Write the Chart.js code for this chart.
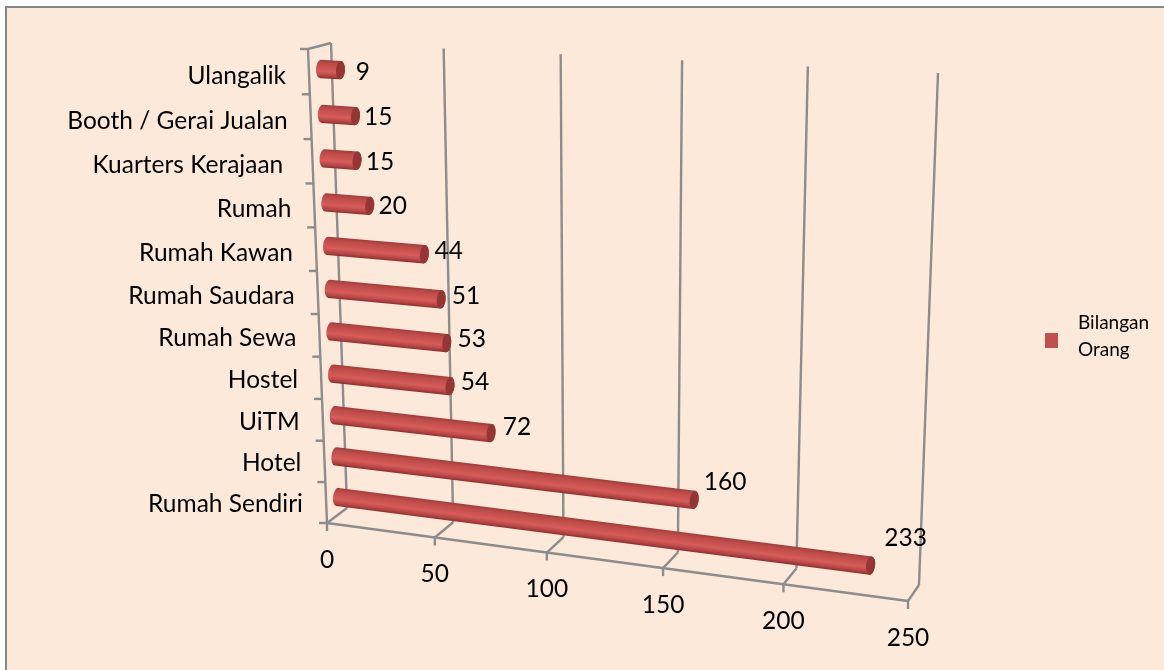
<!DOCTYPE html>
<html><head><meta charset="utf-8">
<style>html,body{margin:0;padding:0;background:#fff}canvas{display:block}</style>
<script src="https://cdn.jsdelivr.net/npm/chart.js@4"></script>
</head><body><canvas id="c" width="1164" height="670"></canvas>
<script>
const categories = ["Rumah Sendiri","Hotel","UiTM","Hostel","Rumah Sewa","Rumah Saudara","Rumah Kawan","Rumah","Kuarters Kerajaan ","Booth / Gerai Jualan","Ulangalik"];
const values = [233,160,72,54,53,51,44,20,15,15,9];
const seriesName = "Bilangan Orang";
const FONT = "Lato";
const quads = {
  wall:{a:[347,508],b:[919,585],c:[938,73],d:[331,43]},
  floor:{a:[327,523],b:[908,601],c:[919,585],d:[347,508]},
  side:{a:[327,523],b:[347,508],c:[331,43],d:[308,49]},
  bars:{a:[337.5,497],b:[913,571],c:[928,105],d:[320.5,69]}
};
const warpU=u=>u-0.09*u*(1-u), warpT=t=>t-0.055*t*(1-t);
function proj(q,u,t){const U=warpU(u),T=warpT(t);
  const bx=q.a[0]+(q.b[0]-q.a[0])*U,by=q.a[1]+(q.b[1]-q.a[1])*U;
  const tx=q.d[0]+(q.c[0]-q.d[0])*U,ty=q.d[1]+(q.c[1]-q.d[1])*U;
  return [bx+(tx-bx)*T,by+(ty-by)*T];}
const GRID="#8c8c8c";
function line(ctx,p,q){ctx.beginPath();ctx.moveTo(p[0],p[1]);ctx.lineTo(q[0],q[1]);ctx.stroke();}
const scene={id:'scene',
 beforeDraw(chart){const c=chart.ctx;
  c.save();c.fillStyle="#fff";c.fillRect(0,0,1164,670);
  c.fillStyle="#FDE9D9";c.fillRect(5,6,1159,664);
  c.fillStyle="#868686";c.fillRect(5,6,1159,2);c.fillRect(5,6,2,664);c.restore();},
 beforeDatasetsDraw(chart){const c=chart.ctx,xs=chart.scales.x,ys=chart.scales.y,n=categories.length;
  c.save();c.strokeStyle=GRID;c.lineWidth=2.4;c.lineCap="butt";c.lineJoin="round";
  const uOf=v=>(xs.getPixelForValue(v)-xs.left)/(xs.right-xs.left);
  const lo=ys.getPixelForValue(-0.5),hi=ys.getPixelForValue(n-0.5);
  xs.ticks.forEach(tk=>{const u=uOf(tk.value);
    line(c,proj(quads.wall,u,0),proj(quads.wall,u,1));
    line(c,proj(quads.floor,u,0),proj(quads.floor,u,1));
    const f=proj(quads.floor,u,0);line(c,f,[f[0],f[1]+8]);});
  line(c,proj(quads.floor,0,0),proj(quads.floor,1,0));
  line(c,proj(quads.side,0,0),proj(quads.side,0,1));
  line(c,proj(quads.side,0,1),proj(quads.side,1,1));
  for(let i=-0.5;i<=n-0.5;i++){const t=(ys.getPixelForValue(i)-lo)/(hi-lo);
    const p=proj(quads.side,0,t);line(c,p,[p[0]-8,p[1]]);}
  c.restore();
  c.save();c.fillStyle="#000";c.font="24.5px "+FONT;c.textBaseline="middle";c.textAlign="center";
  xs.ticks.forEach(tk=>{const f=proj(quads.floor,uOf(tk.value),0);c.fillText(String(tk.value),f[0],f[1]+37);});
  c.restore();},
 beforeDatasetDraw(chart,args){const c=chart.ctx,xs=chart.scales.x,ys=chart.scales.y,n=categories.length;
  const meta=chart.getDatasetMeta(args.index),r=9.2,rx=4.5;
  const p0=ys.getPixelForValue(0),p1=ys.getPixelForValue(n-1);
  meta.data.forEach((el,i)=>{
    const t=(el.y-p0)/(p1-p0),uB=(el.base-xs.left)/(xs.right-xs.left),uE=(el.x-xs.left)/(xs.right-xs.left);
    const S=proj(quads.bars,uB,t),E=proj(quads.bars,uE,t);
    const ang=Math.atan2(E[1]-S[1],E[0]-S[0]),nx=-Math.sin(ang),ny=Math.cos(ang);
    const mx=(S[0]+E[0])/2,my=(S[1]+E[1])/2;
    const g=c.createLinearGradient(mx-nx*r,my-ny*r,mx+nx*r,my+ny*r);
    g.addColorStop(0,"#A03C3A");g.addColorStop(.18,"#BC4A47");g.addColorStop(.62,"#D65C5A");g.addColorStop(.84,"#B84644");g.addColorStop(1,"#8A2F2D");
    c.save();c.beginPath();
    c.ellipse(S[0],S[1],rx,r,ang,Math.PI/2,Math.PI*1.5);
    c.ellipse(E[0],E[1],rx,r,ang,-Math.PI/2,Math.PI/2);
    c.closePath();c.fillStyle=g;c.fill();
    c.beginPath();c.ellipse(E[0],E[1],rx,r,ang,0,Math.PI*2);c.fillStyle="#963634";c.fill();
    c.restore();
    const k=uE;
    c.save();c.fillStyle="#000";c.font="24.5px "+FONT;c.textBaseline="middle";c.textAlign="center";
    c.fillText(String(values[i]),E[0]+22+14*k,E[1]+3-33*k);
    c.textAlign="right";c.fillText(chart.data.labels[i],S[0]-34.5,S[1]+7);
    c.restore();
  });
  return false;},
 afterDraw(chart){const c=chart.ctx;c.save();
  c.fillStyle=chart.data.datasets[0].backgroundColor;c.fillRect(1045,333,13,15);
  c.fillStyle="#000";c.font="19px "+FONT;c.textBaseline="middle";c.textAlign="left";
  seriesName.split(" ").forEach((w,i)=>c.fillText(w,1078,323+i*27));
  c.restore();}
};
new Chart(document.getElementById('c'),{type:'bar',
 data:{labels:categories,datasets:[{label:seriesName,data:values,backgroundColor:"#C0504D"}]},
 options:{indexAxis:'y',responsive:false,animation:false,
  layout:{padding:0},
  plugins:{legend:{display:false},tooltip:{enabled:false},title:{display:false}},
  scales:{x:{display:false,min:0,max:250,ticks:{stepSize:50}},y:{display:false,reverse:true}}},
 plugins:[scene]});
</script></body></html>
